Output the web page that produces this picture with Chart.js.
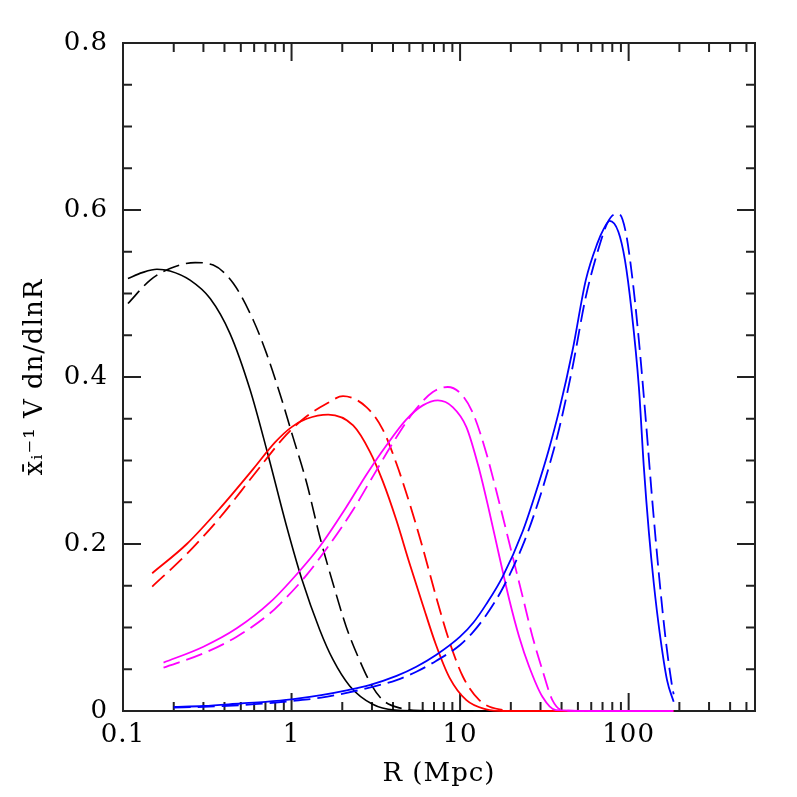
<!DOCTYPE html>
<html><head><meta charset="utf-8">
<script src="https://cdn.jsdelivr.net/npm/chart.js@4.4.0/dist/chart.umd.min.js"></script>
<style>html,body{margin:0;padding:0;background:#fff}canvas{display:block}</style>
</head><body>
<canvas id="c" width="797" height="797"></canvas>
<script>
// ---- data ----
const blackSolidR = [0.107,0.13,0.159,0.19,0.25,0.329,0.4315,0.567,0.714,0.938,1.15,1.471,1.756,2.213,3.028,4.08,5.5,8,20,185];
const blackSolidV = [0.518,0.525,0.529,0.527,0.516,0.494,0.452,0.385,0.312,0.220,0.158,0.097,0.062,0.030,0.008,0.001,0.0002,0,0,0];
const blackDashR  = [0.107,0.145,0.19,0.268,0.343,0.452,0.593,0.711,0.853,1.02,1.23,1.47,1.76,2.11,2.53,3.0,3.48,4.5,5.8,10,185];
const blackDashV  = [0.488,0.516,0.530,0.537,0.534,0.512,0.468,0.428,0.380,0.328,0.273,0.209,0.153,0.101,0.061,0.030,0.013,0.003,0.0005,0,0];
const redSolidR   = [0.149,0.239,0.377,0.593,0.8,1.0,1.23,1.65,2.32,2.91,3.48,4.18,5.01,6.01,7.2,8.65,10.9,14.3,18,30,185];
const redSolidV   = [0.165,0.200,0.243,0.290,0.322,0.340,0.350,0.355,0.342,0.311,0.275,0.229,0.177,0.127,0.079,0.040,0.013,0.002,0,0,0];
const redDashR    = [0.149,0.239,0.377,0.593,0.933,1.23,1.61,2.02,2.78,3.48,4.18,5.01,6.01,7.2,8.65,10.4,13.0,17.1,25,185];
const redDashV    = [0.149,0.188,0.232,0.282,0.331,0.353,0.368,0.377,0.364,0.337,0.297,0.249,0.195,0.137,0.083,0.041,0.013,0.002,0,0];
const magSolidR   = [0.174,0.300,0.473,0.745,1.12,1.47,2.11,2.78,3.65,4.79,6.01,7.38,9.04,10.9,13.0,14.9,17.1,19.6,22.4,25.7,30.8,37,60,184];
const magSolidV   = [0.058,0.077,0.099,0.130,0.168,0.197,0.244,0.283,0.318,0.349,0.366,0.372,0.364,0.340,0.289,0.239,0.185,0.133,0.089,0.053,0.017,0.001,0,0];
const magDashR    = [0.174,0.300,0.473,0.745,0.853,1.23,1.69,2.32,3.04,3.99,5.25,6.89,8.45,10.1,11.9,14.3,17.1,20.5,23.5,26.9,30.8,35.3,40.5,60,184];
const magDashV    = [0.052,0.069,0.089,0.117,0.128,0.163,0.200,0.241,0.281,0.321,0.357,0.382,0.388,0.380,0.357,0.309,0.249,0.185,0.137,0.089,0.049,0.013,0.001,0,0];
const blueSolidR  = [0.2,0.3,0.5,0.7,1.0,1.5,2.16,2.9,4.2,5.5,7.2,10,12,14.3,17.9,23.5,29.4,33.5,38.7,46.5,55.7,65.2,71.4,77.2,86.9,95.1,104,115,123,132,141,153,169,185];
const blueSolidV  = [0.005,0.006,0.009,0.011,0.014,0.019,0.025,0.031,0.042,0.053,0.067,0.089,0.106,0.128,0.161,0.215,0.274,0.312,0.360,0.432,0.516,0.560,0.578,0.587,0.574,0.540,0.480,0.388,0.293,0.213,0.153,0.093,0.037,0.011];
const blueDashR   = [0.2,0.3,0.5,0.7,1.0,1.5,2.16,2.9,4.2,5.5,7.2,10,12,14.3,17.9,23.5,29.4,33.5,38.7,46.5,55.7,66.8,74.6,83.7,87.7,96,105,115,126,138,151,166,181,185];
const blueDashV   = [0.004,0.005,0.007,0.009,0.012,0.016,0.022,0.028,0.037,0.047,0.060,0.079,0.095,0.115,0.147,0.198,0.253,0.291,0.338,0.412,0.496,0.556,0.584,0.595,0.595,0.574,0.520,0.444,0.352,0.253,0.165,0.085,0.030,0.020];

const xTickValues = [0.1, 1, 10, 100];
const xTickLabels = ['0.1', '1', '10', '100'];
const yTickValues = [0, 0.2, 0.4, 0.6, 0.8];
const yTickLabels = ['0', '0.2', '0.4', '0.6', '0.8'];
const xTitle = 'R (Mpc)';
const yTitle = 'x\u0304\u1D62\u207B\u00B9 V dn/dlnR';

// ---- chart ----
const FONT = "'DejaVu Serif', serif";
const FSIZE = 26;
const pts = (R, V) => R.map((r, i) => ({x: r, y: V[i]}));
const DASH = [17, 7];
function ds(R, V, color, dashed, order, w) {
  return {data: pts(R, V), borderColor: color, borderWidth: w, borderDash: dashed ? DASH : [],
          pointRadius: 0, fill: false, cubicInterpolationMode: 'monotone', clip: false, order: order};
}

const framePlugin = {
  id: 'frame',
  beforeDraw(chart) { chart.ctx.letterSpacing = '1px'; },
  beforeDatasetsDraw(chart) {
    const {ctx, chartArea: a, scales: {x, y}} = chart;
    ctx.save();
    ctx.strokeStyle = '#222';
    ctx.lineWidth = 2;
    ctx.strokeRect(a.left, a.top, a.right - a.left, a.bottom - a.top);
    const seg = (x1, y1, x2, y2) => { ctx.beginPath(); ctx.moveTo(x1, y1); ctx.lineTo(x2, y2); ctx.stroke(); };
    for (let e = -1; e <= 2; e++) {
      for (let k = 1; k <= 9; k++) {
        const v = k * Math.pow(10, e);
        if (v < x.min * 0.999 || v > x.max) continue;
        const px = x.getPixelForValue(v);
        const len = k === 1 ? 18 : 9;
        seg(px, a.bottom, px, a.bottom - len);
        seg(px, a.top, px, a.top + len);
      }
    }
    for (let i = 0; i <= 16; i++) {
      const py = y.getPixelForValue(i * 0.05);
      const len = i % 4 === 0 ? 18 : 9;
      seg(a.left, py, a.left + len, py);
      seg(a.right, py, a.right - len, py);
    }
    ctx.restore();
  }
};

new Chart(document.getElementById('c'), {
  type: 'line',
  data: {
    datasets: [
      ds(blackSolidR, blackSolidV, '#000000', false, 7, 1.6),
      ds(blackDashR, blackDashV, '#000000', true, 6, 1.6),
      ds(redSolidR, redSolidV, '#ff0000', false, 5, 1.8),
      ds(redDashR, redDashV, '#ff0000', true, 4, 1.8),
      ds(magSolidR, magSolidV, '#ff00ff', false, 3, 1.8),
      ds(magDashR, magDashV, '#ff00ff', true, 2, 1.8),
      ds(blueSolidR, blueSolidV, '#0000ff', false, 1, 1.8),
      ds(blueDashR, blueDashV, '#0000ff', true, 0, 1.8)
    ]
  },
  options: {
    responsive: false,
    devicePixelRatio: 1,
    animation: false,
    events: [],
    layout: {padding: {top: 43, right: 42, left: 0, bottom: 0}},
    plugins: {legend: {display: false}, tooltip: {enabled: false}},
    scales: {
      x: {
        type: 'logarithmic', min: 0.1, max: 562,
        grid: {display: false}, border: {display: false},
        afterBuildTicks: s => { s.ticks = xTickValues.map(v => ({value: v})); },
        afterFit: s => { s.height = 86; },
        ticks: {autoSkip: false, maxRotation: 0, padding: 1, color: '#000',
                font: {family: FONT, size: FSIZE},
                callback: (v) => { const i = xTickValues.indexOf(v); return i >= 0 ? xTickLabels[i] : ''; }},
        title: {display: true, text: xTitle, color: '#000', font: {family: FONT, size: FSIZE},
                padding: {top: 0, bottom: 7}}
      },
      y: {
        type: 'linear', min: 0, max: 0.8,
        grid: {display: false}, border: {display: false},
        afterBuildTicks: s => { s.ticks = yTickValues.map(v => ({value: v})); },
        afterFit: s => { s.width = 123; },
        ticks: {padding: 7, color: '#000', font: {family: FONT, size: FSIZE},
                callback: (v, i) => yTickLabels[i]},
        title: {display: true, text: yTitle, color: '#000', font: {family: FONT, size: FSIZE},
                padding: {top: 20, bottom: 0}}
      }
    }
  },
  plugins: [framePlugin]
});
</script>
</body></html>
